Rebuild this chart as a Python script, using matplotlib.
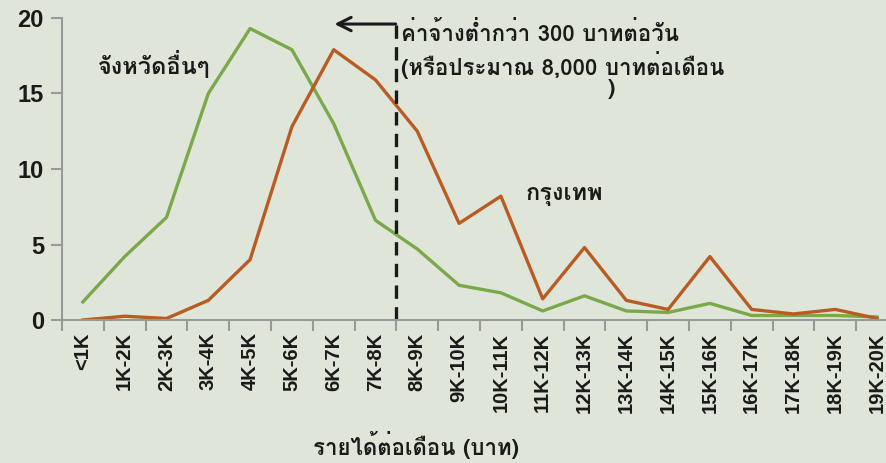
import matplotlib
matplotlib.use('Agg')
import matplotlib.pyplot as plt
from matplotlib import font_manager
from matplotlib.ft2font import FT2Font

categories = ['<1K', '1K-2K', '2K-3K', '3K-4K', '4K-5K', '5K-6K', '6K-7K', '7K-8K',
              '8K-9K', '9K-10K', '10K-11K', '11K-12K', '12K-13K', '13K-14K',
              '14K-15K', '15K-16K', '16K-17K', '17K-18K', '18K-19K', '19K-20K']

# share of workers (%) by monthly income band
provinces = [1.2, 4.2, 6.8, 15.0, 19.3, 17.9, 13.0, 6.6, 4.7, 2.3,
             1.8, 0.6, 1.6, 0.6, 0.5, 1.1, 0.3, 0.3, 0.3, 0.2]
bangkok = [0.0, 0.25, 0.1, 1.3, 4.0, 12.8, 17.9, 15.9, 12.5, 6.4,
           8.2, 1.4, 4.8, 1.3, 0.7, 4.2, 0.7, 0.4, 0.7, 0.1]

y_ticks = [0, 5, 10, 15, 20]


def find_thai_font():
    """Return the name of an installed font that has Thai glyphs, if any."""
    for f in font_manager.fontManager.ttflist:
        try:
            if FT2Font(f.fname).get_char_index(0x0E01):
                return f.name
        except Exception:
            continue
    return 'DejaVu Sans'


thai = find_thai_font()
plt.rcParams['font.family'] = [thai, 'DejaVu Sans']
latin = ['Liberation Sans', 'DejaVu Sans']

bg = '#dfe6d9'
ink = '#1a1a1a'
fig = plt.figure(figsize=(8.87, 4.63), dpi=100, facecolor=bg)
ax = fig.add_axes([62 / 887, 143 / 463, 836 / 887, 302 / 463])
ax.set_facecolor(bg)

x = list(range(len(categories)))
ax.plot(x, provinces, color='#7aa84a', lw=2.4)
ax.plot(x, bangkok, color='#b85c24', lw=2.4)

ax.set_xlim(-0.5, len(categories) - 0.5)
ax.set_ylim(0, 20)
ax.set_yticks(y_ticks)
ax.set_yticklabels([str(v) for v in y_ticks], fontsize=17, fontweight='bold',
                   family=latin, color=ink)
ax.set_xticks([i - 0.5 for i in range(len(categories) + 1)])
ax.set_xticklabels([])
ax.set_xticks(x, minor=True)
ax.set_xticklabels(categories, minor=True, rotation=90, fontsize=14.5,
                   fontweight='bold', family=latin, color=ink)
ax.tick_params(axis='x', which='minor', length=0, pad=9)
ax.tick_params(axis='both', which='major', length=8, color='#999999', width=1.5)
ax.tick_params(axis='y', pad=5)

for s in ['top', 'right']:
    ax.spines[s].set_visible(False)
for s in ['left', 'bottom']:
    ax.spines[s].set_color('#999999')
    ax.spines[s].set_linewidth(1.5)

# threshold line at 8,000 baht / month
ax.plot([7.5, 7.5], [0, 19.6], color=ink, lw=2.4, ls=(0, (4, 2.5)))
ax.annotate('', xy=(5.95, 19.6), xytext=(7.55, 19.6),
            arrowprops=dict(arrowstyle='->', color=ink, lw=2.2, mutation_scale=24))

ax.text(7.6, 19.0, 'ค่าจ้างต่ำกว่า 300 บาทต่อวัน', fontsize=16, fontweight='bold',
        va='center', ha='left', color=ink)
ax.text(7.6, 16.9, '(หรือประมาณ 8,000 บาทต่อเดือน', fontsize=16, fontweight='bold',
        va='center', ha='left', color=ink)
ax.text(12.55, 15.3, ')', fontsize=16, fontweight='bold', va='center', ha='left',
        color=ink)

ax.text(0.35, 16.9, 'จังหวัดอื่นๆ', fontsize=17, fontweight='bold', va='center',
        ha='left', color=ink)
ax.text(10.6, 8.3, 'กรุงเทพ', fontsize=17, fontweight='bold', va='center',
        ha='left', color=ink)

fig.text(416 / 887, 1 - 445 / 463, 'รายได้ต่อเดือน (บาท)', fontsize=16,
         fontweight='bold', ha='center', va='center', color=ink)

fig.savefig('out.png', dpi=100, facecolor=bg)
